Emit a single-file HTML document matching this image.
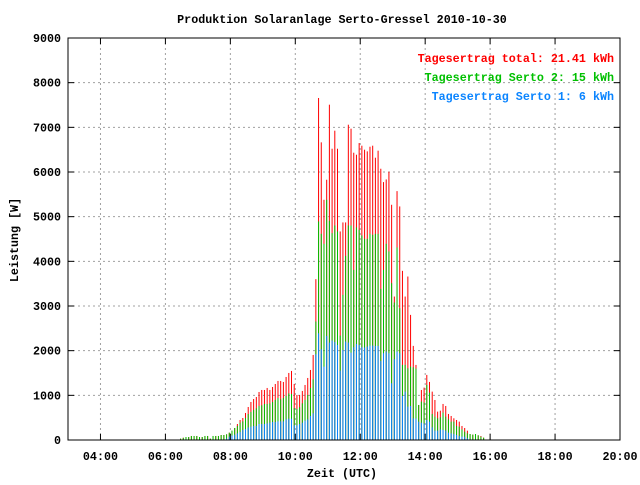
<!DOCTYPE html>
<html><head><meta charset="utf-8"><style>
body{margin:0;background:#fff}
svg text{font-family:"Liberation Mono",monospace;font-weight:bold;font-size:11.7px}
</style></head><body>
<svg id="c" width="640" height="480" xmlns="http://www.w3.org/2000/svg">
<rect width="640" height="480" fill="#fff"/>
<text x="342" y="23" text-anchor="middle">Produktion Solaranlage Serto-Gressel 2010-10-30</text>
<text x="342" y="477" text-anchor="middle">Zeit (UTC)</text>
<text x="18" y="240" text-anchor="middle" transform="rotate(-90 18 240)">Leistung [W]</text>
<g id="grid"></g>
<g id="bars"></g>
<g id="axes"></g>
<text x="614" y="62" text-anchor="end" fill="#ff0000">Tagesertrag total: 21.41 kWh</text>
<text x="614" y="81" text-anchor="end" fill="#00c000">Tagesertrag Serto 2: 15 kWh</text>
<text x="614" y="100" text-anchor="end" fill="#0a84ff">Tagesertrag Serto 1: 6 kWh</text>
</svg>
<script>
const startMinute = 388;
const stepMinutes = 5;
const totalSeries = [30,50,67,67,90,90,90,67,67,90,90,30,90,90,90,112,112,127,164,209,269,358,448,493,605,739,851,918,963,1075,1120,1120,1165,1120,1187,1254,1322,1322,1299,1411,1501,1546,1254,1008,1008,1098,1232,1389,1568,1904,
3601,7657,6664,5378,5827,7507,6521,6925,6521,4669,4871,4871,7059,6970,6432,6387,6648,6589,6499,6462,6566,6589,6320,6477,6073,5774,5834,6006,5266,3212,5572,5229,3787,3212,3660,2801,2107,
1681,784,1120,1173,1457,1300,1083,896,635,657,807,762,583,538,486,448,411,314,269,209,134,120,134,105,90,52];
const serto2Series = [30,50,67,67,90,90,90,67,67,90,90,30,90,90,90,112,112,127,164,209,269,314,388,418,493,582,627,672,709,762,776,806,806,821,851,896,941,911,941,986,1045,1030,717,694,732,821,896,1008,1165,1359,
2652,4893,4616,4392,5378,4908,4631,4803,4669,2338,3250,4123,4803,4803,3810,4758,4706,4579,4504,4504,4616,4594,4616,4616,3384,3810,4392,4221,3511,3078,4310,2951,1681,1681,1606,1643,1628,
1600,784,859,840,1232,1060,583,523,486,508,613,523,463,411,411,314,299,239,187,149,134,120,134,105,75,52];
const serto1Series = [0,0,0,0,0,0,0,0,0,0,0,0,0,0,0,0,0,30,75,100,120,150,180,224,246,284,299,314,314,358,358,358,373,388,403,403,418,418,418,463,478,478,329,329,358,388,433,463,538,597,
1920,2390,2032,1643,2330,2181,2226,2196,2129,1554,2017,2204,2181,1957,2077,2151,2129,2077,2069,2092,2114,2114,2107,2107,1770,1942,1980,1942,1270,1808,1980,1942,986,1083,747,762,486,
480,410,388,370,448,410,284,209,209,239,224,209,164,149,134,112,90,75,75,40,15,10,0,0,0,0];
const xTickLabels = ["04:00","06:00","08:00","10:00","12:00","14:00","16:00","18:00","20:00"];
const yTickLabels = ["0","1000","2000","3000","4000","5000","6000","7000","8000","9000"];

const L=68,R=620,T=38,B=440,xMin=180,xMax=1200,yMax=9000;
const NS="http://www.w3.org/2000/svg";
const xs=m=>L+(m-xMin)/(xMax-xMin)*(R-L);
const ys=v=>B-v/yMax*(B-T);
function mk(tag,attrs,parent){const e=document.createElementNS(NS,tag);for(const k in attrs)e.setAttribute(k,attrs[k]);parent.appendChild(e);return e;}
const grid=document.getElementById('grid'),bars=document.getElementById('bars'),axes=document.getElementById('axes');
yTickLabels.forEach((lab,i)=>{const v=+lab,y=ys(v);
 if(v>0&&v<yMax){const g=mk('line',{x1:L,x2:R,y1:y,y2:y,stroke:'#a0a0a0','stroke-dasharray':'2,3'},grid);
 
 }
 const t=mk('line',{x1:L,x2:L+6,y1:y,y2:y,stroke:'#000'},axes);
 
 
 const t2=mk('line',{x1:R-6,x2:R,y1:y,y2:y,stroke:'#000'},axes);
 
 
 const tx=mk('text',{x:L-7,y:y+4,'text-anchor':'end'},axes);tx.textContent=lab;
 
 
});
xTickLabels.forEach(lab=>{const p=lab.split(':'),m=+p[0]*60+ +p[1],x=xs(m);
 if(x<R-1){const g=mk('line',{x1:x,x2:x,y1:T,y2:B,stroke:'#a0a0a0','stroke-dasharray':'2,3'},grid);
 
 }
 const t=mk('line',{x1:x,x2:x,y1:B-6,y2:B,stroke:'#000'},axes);
 
 
 const t2=mk('line',{x1:x,x2:x,y1:T,y2:T+6,stroke:'#000'},axes);
 
 
 const tx=mk('text',{x:x,y:B+20,'text-anchor':'middle'},axes);tx.textContent=lab;
 
 
});
const series=[[totalSeries,'#ff0000','bar-total'],[serto2Series,'#00c000','bar-serto-2'],[serto1Series,'#0a84ff','bar-serto-1']];
series.forEach(([arr,col,name])=>{arr.forEach((v,i)=>{if(v<=0)return;const x=xs(startMinute+i*stepMinutes);
 const r=mk('rect',{x:x-0.5,y:ys(v),width:1,height:B-ys(v),fill:col},bars);
 
 
});});
const f=mk('rect',{x:L,y:T,width:R-L,height:B-T,fill:'none',stroke:'#000','stroke-width':1},axes);


</script>
</body></html>
